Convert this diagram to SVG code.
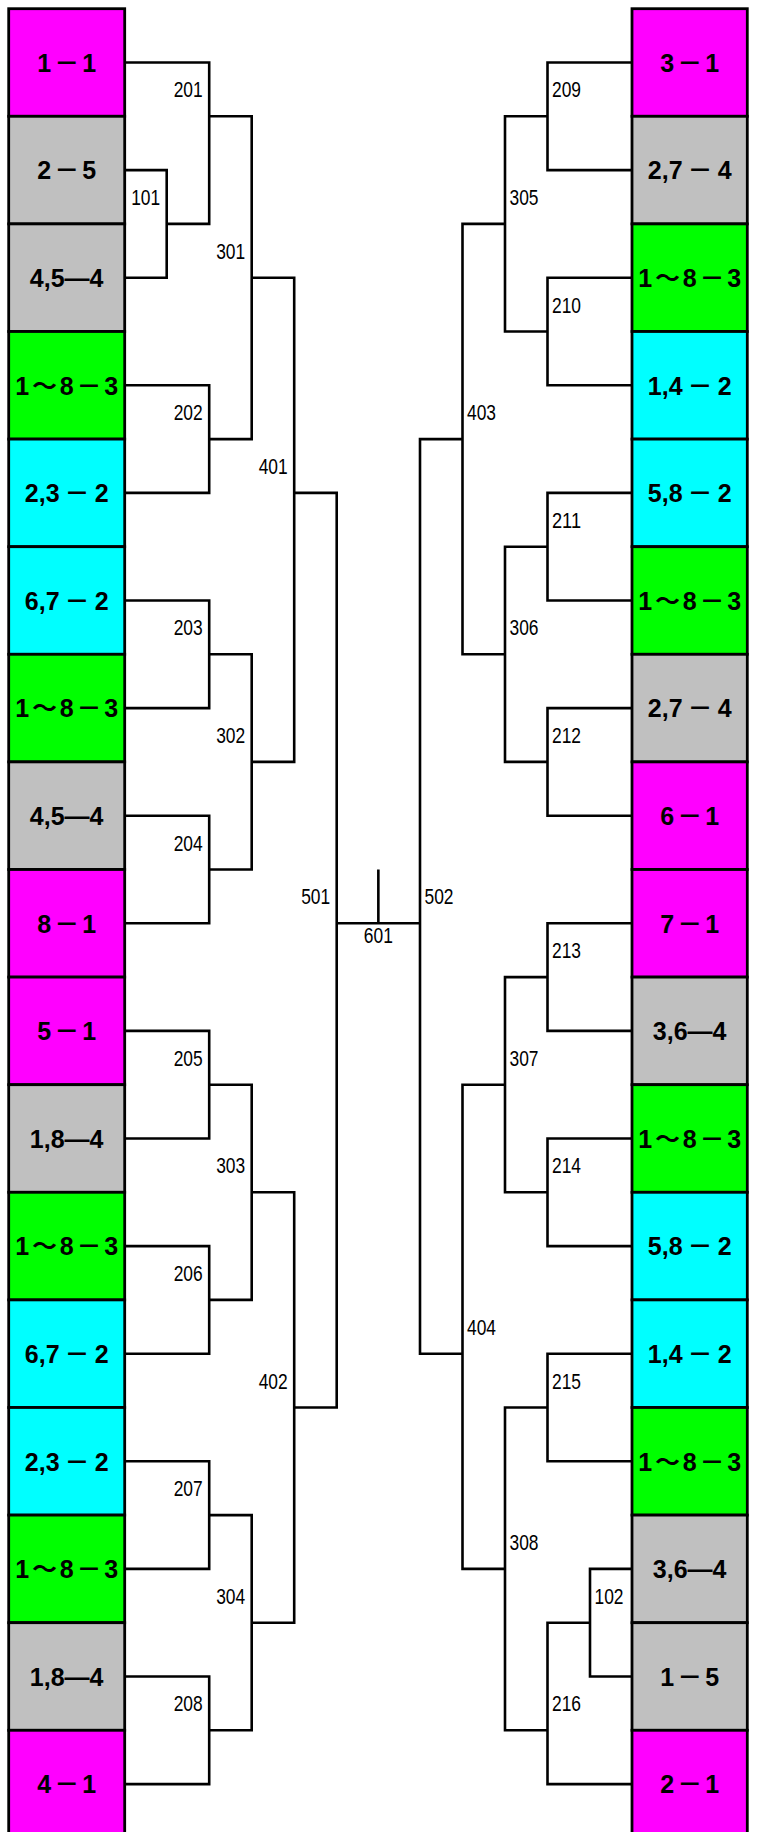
<svg xmlns="http://www.w3.org/2000/svg" width="760" height="1832" viewBox="0 0 760 1832">
<style>
.ln{fill:none;stroke:#000;stroke-width:2.6;stroke-linejoin:miter}
.bx{stroke:#000;stroke-width:2.8}
.m{fill:#FF00FF}.g{fill:#C0C0C0}.gr{fill:#00FF00}.c{fill:#00FFFF}
.bt{font-family:"Liberation Sans","Noto Sans CJK JP",sans-serif;font-weight:bold;font-size:25px;text-anchor:middle;fill:#000}
.nl{font-family:"Liberation Sans",sans-serif;font-size:22px;fill:#000}
.e{text-anchor:end}.s{text-anchor:start}.mid{text-anchor:middle}
</style>
<rect width="760" height="1832" fill="#fff"/>
<g id="connectors">
<path class="ln" d="M124.7 170.1H166.7V277.7H124.7"/>
<path class="ln" d="M124.7 62.5H209.2V223.9H166.7"/>
<path class="ln" d="M124.7 385.3H209.2V492.9H124.7"/>
<path class="ln" d="M209.2 116.3H251.7V439.1H209.2"/>
<path class="ln" d="M124.7 600.5H209.2V708.1H124.7"/>
<path class="ln" d="M124.7 815.7H209.2V923.3H124.7"/>
<path class="ln" d="M209.2 654.3H251.7V869.5H209.2"/>
<path class="ln" d="M251.7 277.7H294.2V761.9H251.7"/>
<path class="ln" d="M124.7 1030.9H209.2V1138.5H124.7"/>
<path class="ln" d="M124.7 1246.1H209.2V1353.7H124.7"/>
<path class="ln" d="M209.2 1084.7H251.7V1299.9H209.2"/>
<path class="ln" d="M124.7 1461.3H209.2V1568.9H124.7"/>
<path class="ln" d="M124.7 1676.5H209.2V1784.1H124.7"/>
<path class="ln" d="M209.2 1515.1H251.7V1730.3H209.2"/>
<path class="ln" d="M251.7 1192.3H294.2V1622.7H251.7"/>
<path class="ln" d="M294.2 492.9H336.7V1407.5H294.2"/>
<path class="ln" d="M336.7 923.3H420M378.35 869.5V923.3"/>
<path class="ln" d="M632 62.5H547.5V170.1H632"/>
<path class="ln" d="M632 277.7H547.5V385.3H632"/>
<path class="ln" d="M547.5 116.3H505V331.5H547.5"/>
<path class="ln" d="M632 492.9H547.5V600.5H632"/>
<path class="ln" d="M632 708.1H547.5V815.7H632"/>
<path class="ln" d="M547.5 546.7H505V761.9H547.5"/>
<path class="ln" d="M505 223.9H462.5V654.3H505"/>
<path class="ln" d="M632 923.3H547.5V1030.9H632"/>
<path class="ln" d="M632 1138.5H547.5V1246.1H632"/>
<path class="ln" d="M547.5 977.1H505V1192.3H547.5"/>
<path class="ln" d="M632 1353.7H547.5V1461.3H632"/>
<path class="ln" d="M632 1568.9H590V1676.5H632"/>
<path class="ln" d="M590 1622.7H547.5V1784.1H632"/>
<path class="ln" d="M547.5 1407.5H505V1730.3H547.5"/>
<path class="ln" d="M505 1084.7H462.5V1568.9H505"/>
<path class="ln" d="M462.5 439.1H420V1353.7H462.5"/>
<g id="connector-labels">
<text class="nl e" x="160.2" y="204.9" textLength="29" lengthAdjust="spacingAndGlyphs">101</text>
<text class="nl e" x="202.7" y="97.3" textLength="29" lengthAdjust="spacingAndGlyphs">201</text>
<text class="nl e" x="202.7" y="420.1" textLength="29" lengthAdjust="spacingAndGlyphs">202</text>
<text class="nl e" x="245.2" y="258.7" textLength="29" lengthAdjust="spacingAndGlyphs">301</text>
<text class="nl e" x="202.7" y="635.3" textLength="29" lengthAdjust="spacingAndGlyphs">203</text>
<text class="nl e" x="202.7" y="850.5" textLength="29" lengthAdjust="spacingAndGlyphs">204</text>
<text class="nl e" x="245.2" y="742.9" textLength="29" lengthAdjust="spacingAndGlyphs">302</text>
<text class="nl e" x="287.7" y="473.9" textLength="29" lengthAdjust="spacingAndGlyphs">401</text>
<text class="nl e" x="202.7" y="1065.7" textLength="29" lengthAdjust="spacingAndGlyphs">205</text>
<text class="nl e" x="202.7" y="1280.9" textLength="29" lengthAdjust="spacingAndGlyphs">206</text>
<text class="nl e" x="245.2" y="1173.3" textLength="29" lengthAdjust="spacingAndGlyphs">303</text>
<text class="nl e" x="202.7" y="1496.1" textLength="29" lengthAdjust="spacingAndGlyphs">207</text>
<text class="nl e" x="202.7" y="1711.3" textLength="29" lengthAdjust="spacingAndGlyphs">208</text>
<text class="nl e" x="245.2" y="1603.7" textLength="29" lengthAdjust="spacingAndGlyphs">304</text>
<text class="nl e" x="287.7" y="1388.5" textLength="29" lengthAdjust="spacingAndGlyphs">402</text>
<text class="nl e" x="330.2" y="904.3" textLength="29" lengthAdjust="spacingAndGlyphs">501</text>
<text class="nl mid" x="378.35" y="943.3" textLength="29" lengthAdjust="spacingAndGlyphs">601</text>
<text class="nl s" x="552" y="97.3" textLength="29" lengthAdjust="spacingAndGlyphs">209</text>
<text class="nl s" x="552" y="312.5" textLength="29" lengthAdjust="spacingAndGlyphs">210</text>
<text class="nl s" x="509.5" y="204.9" textLength="29" lengthAdjust="spacingAndGlyphs">305</text>
<text class="nl s" x="552" y="527.7" textLength="29" lengthAdjust="spacingAndGlyphs">211</text>
<text class="nl s" x="552" y="742.9" textLength="29" lengthAdjust="spacingAndGlyphs">212</text>
<text class="nl s" x="509.5" y="635.3" textLength="29" lengthAdjust="spacingAndGlyphs">306</text>
<text class="nl s" x="467" y="420.1" textLength="29" lengthAdjust="spacingAndGlyphs">403</text>
<text class="nl s" x="552" y="958.1" textLength="29" lengthAdjust="spacingAndGlyphs">213</text>
<text class="nl s" x="552" y="1173.3" textLength="29" lengthAdjust="spacingAndGlyphs">214</text>
<text class="nl s" x="509.5" y="1065.7" textLength="29" lengthAdjust="spacingAndGlyphs">307</text>
<text class="nl s" x="552" y="1388.5" textLength="29" lengthAdjust="spacingAndGlyphs">215</text>
<text class="nl s" x="594.5" y="1603.7" textLength="29" lengthAdjust="spacingAndGlyphs">102</text>
<text class="nl s" x="552" y="1711.3" textLength="29" lengthAdjust="spacingAndGlyphs">216</text>
<text class="nl s" x="509.5" y="1549.9" textLength="29" lengthAdjust="spacingAndGlyphs">308</text>
<text class="nl s" x="467" y="1334.7" textLength="29" lengthAdjust="spacingAndGlyphs">404</text>
<text class="nl s" x="424.5" y="904.3" textLength="29" lengthAdjust="spacingAndGlyphs">502</text>
</g>
</g>
<g id="L1"><rect class="bx m" x="8.7" y="8.7" width="116" height="107.6"/><text class="bt" x="66.7" y="71.7" textLength="59" lengthAdjust="spacing">1－1</text></g>
<g id="L2"><rect class="bx g" x="8.7" y="116.3" width="116" height="107.6"/><text class="bt" x="66.7" y="179.3" textLength="59" lengthAdjust="spacing">2－5</text></g>
<g id="L3"><rect class="bx g" x="8.7" y="223.9" width="116" height="107.6"/><text class="bt" x="66.7" y="286.9">4,5—4</text></g>
<g id="L4"><rect class="bx gr" x="8.7" y="331.5" width="116" height="107.6"/><text class="bt" x="66.7" y="394.5" textLength="103" lengthAdjust="spacing">1～8－3</text></g>
<g id="L5"><rect class="bx c" x="8.7" y="439.1" width="116" height="107.6"/><text class="bt" x="66.7" y="502.1">2,3<tspan dx="5">－</tspan><tspan dx="5">2</tspan></text></g>
<g id="L6"><rect class="bx c" x="8.7" y="546.7" width="116" height="107.6"/><text class="bt" x="66.7" y="609.7">6,7<tspan dx="5">－</tspan><tspan dx="5">2</tspan></text></g>
<g id="L7"><rect class="bx gr" x="8.7" y="654.3" width="116" height="107.6"/><text class="bt" x="66.7" y="717.3" textLength="103" lengthAdjust="spacing">1～8－3</text></g>
<g id="L8"><rect class="bx g" x="8.7" y="761.9" width="116" height="107.6"/><text class="bt" x="66.7" y="824.9">4,5—4</text></g>
<g id="L9"><rect class="bx m" x="8.7" y="869.5" width="116" height="107.6"/><text class="bt" x="66.7" y="932.5" textLength="59" lengthAdjust="spacing">8－1</text></g>
<g id="L10"><rect class="bx m" x="8.7" y="977.1" width="116" height="107.6"/><text class="bt" x="66.7" y="1040.1" textLength="59" lengthAdjust="spacing">5－1</text></g>
<g id="L11"><rect class="bx g" x="8.7" y="1084.7" width="116" height="107.6"/><text class="bt" x="66.7" y="1147.7">1,8—4</text></g>
<g id="L12"><rect class="bx gr" x="8.7" y="1192.3" width="116" height="107.6"/><text class="bt" x="66.7" y="1255.3" textLength="103" lengthAdjust="spacing">1～8－3</text></g>
<g id="L13"><rect class="bx c" x="8.7" y="1299.9" width="116" height="107.6"/><text class="bt" x="66.7" y="1362.9">6,7<tspan dx="5">－</tspan><tspan dx="5">2</tspan></text></g>
<g id="L14"><rect class="bx c" x="8.7" y="1407.5" width="116" height="107.6"/><text class="bt" x="66.7" y="1470.5">2,3<tspan dx="5">－</tspan><tspan dx="5">2</tspan></text></g>
<g id="L15"><rect class="bx gr" x="8.7" y="1515.1" width="116" height="107.6"/><text class="bt" x="66.7" y="1578.1" textLength="103" lengthAdjust="spacing">1～8－3</text></g>
<g id="L16"><rect class="bx g" x="8.7" y="1622.7" width="116" height="107.6"/><text class="bt" x="66.7" y="1685.7">1,8—4</text></g>
<g id="L17"><rect class="bx m" x="8.7" y="1730.3" width="116" height="107.6"/><text class="bt" x="66.7" y="1793.3" textLength="59" lengthAdjust="spacing">4－1</text></g>
<g id="R1"><rect class="bx m" x="632" y="8.7" width="115.3" height="107.6"/><text class="bt" x="689.7" y="71.7" textLength="59" lengthAdjust="spacing">3－1</text></g>
<g id="R2"><rect class="bx g" x="632" y="116.3" width="115.3" height="107.6"/><text class="bt" x="689.7" y="179.3">2,7<tspan dx="5">－</tspan><tspan dx="5">4</tspan></text></g>
<g id="R3"><rect class="bx gr" x="632" y="223.9" width="115.3" height="107.6"/><text class="bt" x="689.7" y="286.9" textLength="103" lengthAdjust="spacing">1～8－3</text></g>
<g id="R4"><rect class="bx c" x="632" y="331.5" width="115.3" height="107.6"/><text class="bt" x="689.7" y="394.5">1,4<tspan dx="5">－</tspan><tspan dx="5">2</tspan></text></g>
<g id="R5"><rect class="bx c" x="632" y="439.1" width="115.3" height="107.6"/><text class="bt" x="689.7" y="502.1">5,8<tspan dx="5">－</tspan><tspan dx="5">2</tspan></text></g>
<g id="R6"><rect class="bx gr" x="632" y="546.7" width="115.3" height="107.6"/><text class="bt" x="689.7" y="609.7" textLength="103" lengthAdjust="spacing">1～8－3</text></g>
<g id="R7"><rect class="bx g" x="632" y="654.3" width="115.3" height="107.6"/><text class="bt" x="689.7" y="717.3">2,7<tspan dx="5">－</tspan><tspan dx="5">4</tspan></text></g>
<g id="R8"><rect class="bx m" x="632" y="761.9" width="115.3" height="107.6"/><text class="bt" x="689.7" y="824.9" textLength="59" lengthAdjust="spacing">6－1</text></g>
<g id="R9"><rect class="bx m" x="632" y="869.5" width="115.3" height="107.6"/><text class="bt" x="689.7" y="932.5" textLength="59" lengthAdjust="spacing">7－1</text></g>
<g id="R10"><rect class="bx g" x="632" y="977.1" width="115.3" height="107.6"/><text class="bt" x="689.7" y="1040.1">3,6—4</text></g>
<g id="R11"><rect class="bx gr" x="632" y="1084.7" width="115.3" height="107.6"/><text class="bt" x="689.7" y="1147.7" textLength="103" lengthAdjust="spacing">1～8－3</text></g>
<g id="R12"><rect class="bx c" x="632" y="1192.3" width="115.3" height="107.6"/><text class="bt" x="689.7" y="1255.3">5,8<tspan dx="5">－</tspan><tspan dx="5">2</tspan></text></g>
<g id="R13"><rect class="bx c" x="632" y="1299.9" width="115.3" height="107.6"/><text class="bt" x="689.7" y="1362.9">1,4<tspan dx="5">－</tspan><tspan dx="5">2</tspan></text></g>
<g id="R14"><rect class="bx gr" x="632" y="1407.5" width="115.3" height="107.6"/><text class="bt" x="689.7" y="1470.5" textLength="103" lengthAdjust="spacing">1～8－3</text></g>
<g id="R15"><rect class="bx g" x="632" y="1515.1" width="115.3" height="107.6"/><text class="bt" x="689.7" y="1578.1">3,6—4</text></g>
<g id="R16"><rect class="bx g" x="632" y="1622.7" width="115.3" height="107.6"/><text class="bt" x="689.7" y="1685.7" textLength="59" lengthAdjust="spacing">1－5</text></g>
<g id="R17"><rect class="bx m" x="632" y="1730.3" width="115.3" height="107.6"/><text class="bt" x="689.7" y="1793.3" textLength="59" lengthAdjust="spacing">2－1</text></g>
</svg>
